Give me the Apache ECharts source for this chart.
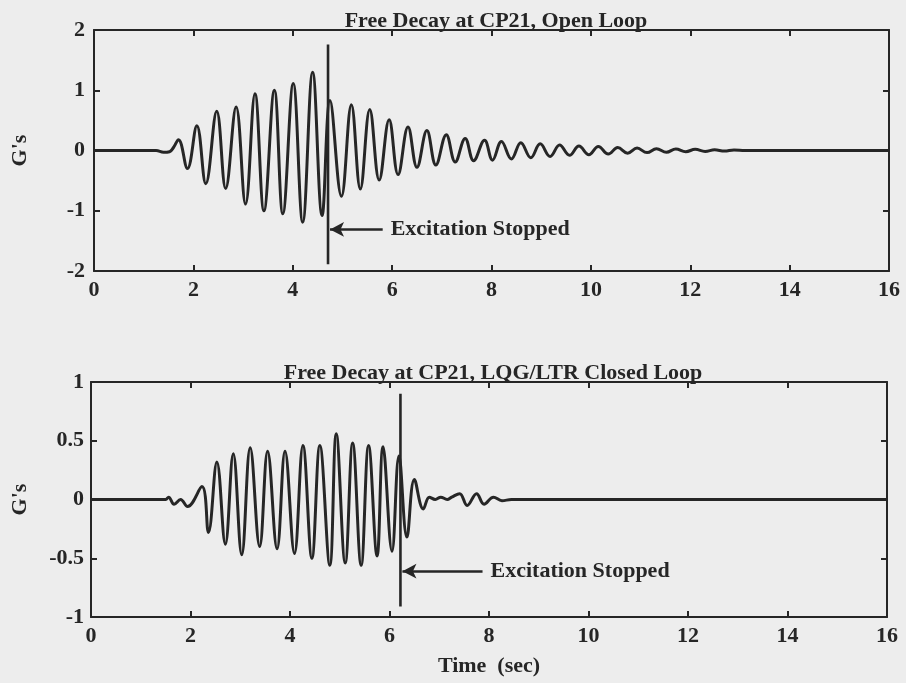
<!DOCTYPE html>
<html>
<head>
<meta charset="utf-8">
<script src="https://cdn.jsdelivr.net/npm/echarts@6/dist/echarts.min.js"></script>
<style>
html,body{margin:0;padding:0;background:#ededed;}
#chart{width:906px;height:683px;}
</style>
</head>
<body>
<div id="chart"></div>
<script>
// ---- Data ----
const xTicks = [0, 2, 4, 6, 8, 10, 12, 14, 16];
const topYTicks = [-2, -1, 0, 1, 2];
const botYTicks = [-1, -0.5, 0, 0.5, 1];

const topTitle = 'Free Decay at CP21, Open Loop';
const botTitle = 'Free Decay at CP21, LQG/LTR Closed Loop';
const xName = 'Time  (sec)';
const yName = "G's";
const noteText = 'Excitation Stopped';

// Open loop response: time (s) and acceleration (G's) at extrema / turning points
const openT = [0, 1.25, 1.40, 1.52, 1.60, 1.70, 1.88, 2.07, 2.25, 2.47, 2.65, 2.86, 3.05, 3.24, 3.42, 3.63, 3.80, 4.01, 4.20, 4.40, 4.59, 4.75, 4.98, 5.18, 5.36, 5.55, 5.74, 5.94, 6.12, 6.32, 6.50, 6.70, 6.88, 7.09, 7.27, 7.47, 7.64, 7.86, 8.02, 8.20, 8.40, 8.59, 8.79, 8.98, 9.18, 9.37, 9.57, 9.76, 9.96, 10.15, 10.35, 10.54, 10.74, 10.93, 11.13, 11.32, 11.52, 11.71, 11.91, 12.10, 12.30, 12.49, 12.69, 12.88, 13.10, 16];
const openG = [0, 0, -0.03, -0.02, 0.05, 0.18, -0.30, 0.41, -0.55, 0.65, -0.63, 0.72, -0.89, 0.94, -1.00, 1.00, -1.05, 1.11, -1.19, 1.30, -1.08, 0.83, -0.76, 0.76, -0.64, 0.68, -0.49, 0.51, -0.40, 0.39, -0.28, 0.33, -0.24, 0.26, -0.19, 0.20, -0.17, 0.17, -0.16, 0.15, -0.14, 0.13, -0.12, 0.11, -0.10, 0.09, -0.08, 0.075, -0.07, 0.065, -0.06, 0.05, -0.045, 0.04, -0.035, 0.03, -0.03, 0.025, -0.02, 0.02, -0.015, 0.012, -0.01, 0.008, 0, 0];

// Closed loop response
const closedT = [0, 1.50, 1.56, 1.67, 1.80, 1.94, 2.23, 2.36, 2.53, 2.70, 2.86, 3.03, 3.20, 3.39, 3.55, 3.74, 3.90, 4.09, 4.26, 4.44, 4.60, 4.80, 4.93, 5.11, 5.26, 5.43, 5.58, 5.75, 5.87, 6.05, 6.19, 6.35, 6.50, 6.68, 6.80, 6.92, 7.03, 7.16, 7.25, 7.41, 7.56, 7.75, 7.90, 8.09, 8.26, 8.45, 16];
const closedG = [0, 0, 0.02, -0.04, 0.00, -0.06, 0.11, -0.28, 0.32, -0.38, 0.39, -0.47, 0.44, -0.40, 0.41, -0.42, 0.41, -0.46, 0.46, -0.50, 0.46, -0.56, 0.56, -0.54, 0.48, -0.56, 0.46, -0.48, 0.45, -0.44, 0.37, -0.32, 0.17, -0.08, 0.02, 0.00, 0.02, 0.00, 0.02, 0.05, -0.05, 0.05, -0.04, 0.02, -0.01, 0.00, 0];

// "Excitation stopped" annotations
const openStop = {t: 4.71, y0: -1.89, y1: 1.76, arrowY: -1.31, arrowEnd: 5.81};
const closedStop = {t: 6.22, y0: -0.91, y1: 0.90, arrowY: -0.61, arrowEnd: 7.87};

// ---- Chart ----
const INK = '#262626';
const FONT = "'Liberation Serif', 'Times New Roman', serif";
const FS = 22;
const pairs = (a, b) => a.map((v, i) => [v, b[i]]);

function xAx(grid, pos, labels, extra) {
  return Object.assign({
    type: 'value', gridIndex: grid, position: pos, min: 0, max: 16, interval: 2,
    axisLine: {show: true, onZero: false, lineStyle: {color: INK, width: 2}},
    axisTick: {show: true, inside: true, length: 6, lineStyle: {color: INK, width: 2}},
    axisLabel: {show: labels, color: INK, fontFamily: FONT, fontWeight: 'bold', fontSize: FS, margin: 8},
    splitLine: {show: false}
  }, extra || {});
}
function yAx(grid, pos, min, max, iv, labels, margin, extra) {
  return Object.assign({
    type: 'value', gridIndex: grid, position: pos, min: min, max: max, interval: iv,
    axisLine: {show: true, onZero: false, lineStyle: {color: INK, width: 2}},
    axisTick: {show: true, inside: true, length: 6, lineStyle: {color: INK, width: 2}},
    axisLabel: {show: labels, color: INK, fontFamily: FONT, fontWeight: 'bold', fontSize: FS, margin: margin},
    splitLine: {show: false}
  }, extra || {});
}
function nameStyle() {
  return {color: INK, fontFamily: FONT, fontWeight: 'bold', fontSize: FS};
}
function stopSeries(stop, xi, yi) {
  return {
    type: 'line', xAxisIndex: xi, yAxisIndex: yi, symbol: 'none', silent: true,
    data: [[stop.t, stop.y0], [stop.t, stop.y1]],
    lineStyle: {color: INK, width: 2.6},
    markLine: {
      silent: true, symbol: ['arrow', 'none'], symbolSize: [11, 14],
      lineStyle: {color: INK, width: 2.6, type: 'solid'},
      label: {show: true, position: 'end', formatter: noteText, distance: 8,
        color: INK, fontFamily: FONT, fontWeight: 'bold', fontSize: FS},
      data: [[{coord: [stop.t + 0.04, stop.arrowY]}, {coord: [stop.arrowEnd, stop.arrowY]}]]
    }
  };
}

const option = {
  backgroundColor: '#ededed',
  animation: false,
  title: [
    {text: topTitle, left: 491, top: 5, textAlign: 'center',
      textStyle: {color: INK, fontFamily: FONT, fontWeight: 'bold', fontSize: FS}},
    {text: botTitle, left: 488, top: 357, textAlign: 'center',
      textStyle: {color: INK, fontFamily: FONT, fontWeight: 'bold', fontSize: FS}}
  ],
  grid: [
    {left: 94, right: 17, top: 30, bottom: 412},
    {left: 91, right: 19, top: 382, bottom: 66}
  ],
  xAxis: [
    xAx(0, 'bottom', true),
    xAx(0, 'top', false),
    xAx(1, 'bottom', true, {name: xName, nameLocation: 'middle', nameGap: 38, nameTextStyle: nameStyle()}),
    xAx(1, 'top', false)
  ],
  yAxis: [
    yAx(0, 'left', -2, 2, 1, true, 9, {name: yName, nameLocation: 'middle', nameGap: 63, nameRotate: 90, nameTextStyle: nameStyle()}),
    yAx(0, 'right', -2, 2, 1, false, 8),
    yAx(1, 'left', -1, 1, 0.5, true, 7, {name: yName, nameLocation: 'middle', nameGap: 60, nameRotate: 90, nameTextStyle: nameStyle()}),
    yAx(1, 'right', -1, 1, 0.5, false, 8)
  ],
  series: [
    {type: 'line', xAxisIndex: 0, yAxisIndex: 0, data: pairs(openT, openG), symbol: 'none',
      smooth: 0.4, lineStyle: {color: INK, width: 3}},
    {type: 'line', xAxisIndex: 2, yAxisIndex: 2, data: pairs(closedT, closedG), symbol: 'none',
      smooth: 0.4, lineStyle: {color: INK, width: 3}},
    stopSeries(openStop, 0, 0),
    stopSeries(closedStop, 2, 2)
  ]
};

const chart = echarts.init(document.getElementById('chart'), null, {renderer: 'canvas'});
chart.setOption(option);
</script>
</body>
</html>
